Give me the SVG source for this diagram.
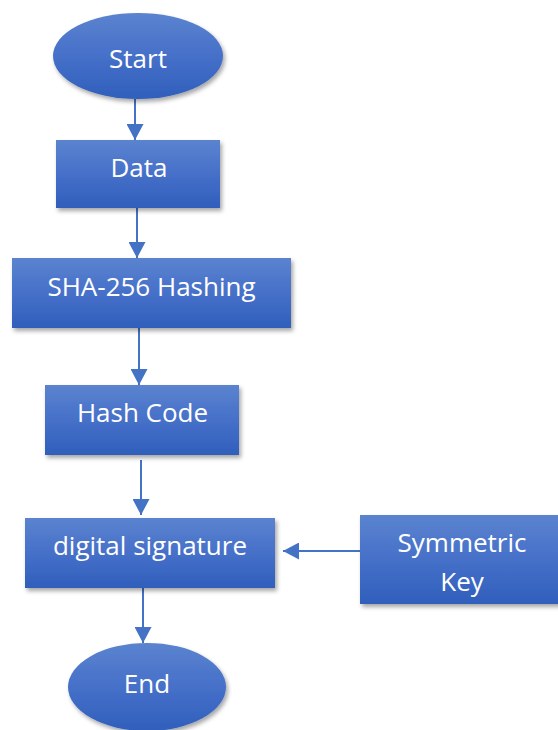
<svg xmlns="http://www.w3.org/2000/svg" width="558" height="730" viewBox="0 0 558 730">
  <style>
    .shape { fill: url(#blueFill); filter: url(#softShadow); }
    .label { font-family: "Open Sans", "Noto Sans", sans-serif; font-size: 26px; fill: #ffffff; text-anchor: middle; }
    .link { stroke: #4472c4; stroke-width: 2; fill: none; marker-end: url(#arrowHead); }
  </style>
  <defs>
    <linearGradient id="blueFill" x1="0" y1="0" x2="0" y2="1">
      <stop offset="0" stop-color="#5b83cf"/>
      <stop offset="0.5" stop-color="#4670c9"/>
      <stop offset="1" stop-color="#2f5fbb"/>
    </linearGradient>
    <filter id="softShadow" x="-10%" y="-10%" width="125%" height="130%">
      <feDropShadow dx="2" dy="3" stdDeviation="2" flood-color="#000000" flood-opacity="0.35"/>
    </filter>
    <marker id="arrowHead" markerUnits="userSpaceOnUse" markerWidth="17" markerHeight="17" viewBox="0 0 17 17" refX="16" refY="8.5" orient="auto">
      <path d="M0,0 L16,8.5 L0,17 Z" fill="#4472c4"/>
    </marker>
  </defs>

  <!-- connectors -->
  <g id="connectors">
    <line class="link" x1="135" y1="99" x2="135" y2="140"/>
    <line class="link" x1="137" y1="208" x2="137" y2="258"/>
    <line class="link" x1="139" y1="328" x2="139" y2="385"/>
    <line class="link" x1="141" y1="460" x2="141" y2="515"/>
    <line class="link" x1="143" y1="588" x2="143" y2="643"/>
    <line class="link" x1="360" y1="551" x2="283" y2="551"/>
  </g>

  <g id="start">
    <ellipse class="shape" cx="138" cy="56" rx="85" ry="43"/>
    <text class="label" x="138" y="68">Start</text>
  </g>

  <g id="data">
    <rect class="shape" x="56" y="140" width="164" height="68"/>
    <text class="label" x="139" y="177">Data</text>
  </g>

  <g id="sha256">
    <rect class="shape" x="12" y="258" width="279" height="70"/>
    <text class="label" x="151.5" y="296">SHA-256 Hashing</text>
  </g>

  <g id="hashCode">
    <rect class="shape" x="45" y="385" width="194" height="70"/>
    <text class="label" x="142.5" y="422">Hash Code</text>
  </g>

  <g id="digitalSignature">
    <rect class="shape" x="25" y="518" width="250" height="70"/>
    <text class="label" x="150" y="555">digital signature</text>
  </g>

  <g id="symmetricKey">
    <rect class="shape" x="360" y="515" width="204" height="89"/>
    <text class="label" x="462" y="552">Symmetric</text>
    <text class="label" x="462" y="591">Key</text>
  </g>

  <g id="end">
    <ellipse class="shape" cx="147" cy="687" rx="79" ry="44"/>
    <text class="label" x="147" y="693">End</text>
  </g>
</svg>
